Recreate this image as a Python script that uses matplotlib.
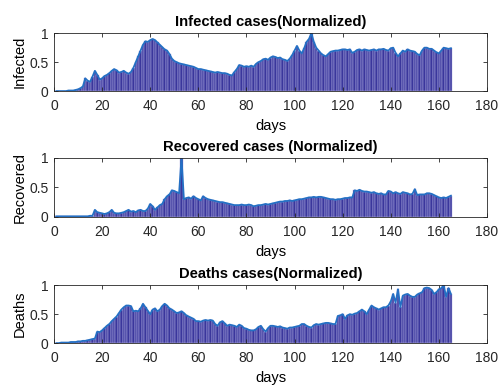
import numpy as np
import matplotlib
matplotlib.use("Agg")
import matplotlib.pyplot as plt

plt.rcParams["font.family"] = ["Liberation Sans", "DejaVu Sans"]

# normalized daily values, day 1..165
infected = [
    0.00, 0.00, 0.00, 0.00, 0.00, 0.01, 0.01, 0.01, 0.02, 0.03,
    0.05, 0.08, 0.22, 0.18, 0.16, 0.25, 0.35, 0.28, 0.20, 0.22,
    0.26, 0.28, 0.31, 0.35, 0.38, 0.36, 0.32, 0.33, 0.35, 0.32,
    0.30, 0.33, 0.40, 0.50, 0.60, 0.70, 0.80, 0.86, 0.85, 0.88,
    0.90, 0.88, 0.84, 0.80, 0.76, 0.72, 0.70, 0.64, 0.56, 0.52,
    0.50, 0.48, 0.47, 0.46, 0.45, 0.44, 0.43, 0.42, 0.40, 0.38,
    0.38, 0.37, 0.36, 0.35, 0.34, 0.33, 0.32, 0.33, 0.32, 0.31,
    0.31, 0.30, 0.28, 0.27, 0.33, 0.38, 0.45, 0.44, 0.42, 0.43,
    0.42, 0.44, 0.42, 0.47, 0.50, 0.52, 0.55, 0.56, 0.54, 0.58,
    0.60, 0.59, 0.57, 0.58, 0.55, 0.54, 0.52, 0.56, 0.62, 0.70,
    0.78, 0.70, 0.65, 0.74, 0.85, 0.90, 1.00, 0.85, 0.75, 0.70,
    0.65, 0.62, 0.60, 0.64, 0.68, 0.69, 0.70, 0.70, 0.71, 0.72,
    0.72, 0.71, 0.72, 0.66, 0.68, 0.71, 0.72, 0.70, 0.72, 0.71,
    0.70, 0.71, 0.72, 0.70, 0.72, 0.72, 0.73, 0.71, 0.70, 0.74,
    0.75, 0.66, 0.60, 0.65, 0.70, 0.68, 0.72, 0.70, 0.69, 0.68,
    0.64, 0.62, 0.70, 0.75, 0.75, 0.73, 0.73, 0.70, 0.67, 0.65,
    0.70, 0.75, 0.74, 0.73, 0.74,
]

recovered = [
    0.01, 0.01, 0.01, 0.01, 0.01, 0.01, 0.01, 0.01, 0.01, 0.01,
    0.01, 0.01, 0.01, 0.01, 0.02, 0.02, 0.12, 0.08, 0.07, 0.06,
    0.05, 0.06, 0.08, 0.12, 0.07, 0.06, 0.06, 0.07, 0.08, 0.10,
    0.12, 0.09, 0.10, 0.08, 0.11, 0.12, 0.10, 0.10, 0.14, 0.22,
    0.18, 0.12, 0.16, 0.20, 0.22, 0.30, 0.35, 0.38, 0.45, 0.44,
    0.42, 0.40, 1.00, 0.30, 0.32, 0.33, 0.31, 0.35, 0.32, 0.30,
    0.28, 0.35, 0.32, 0.30, 0.29, 0.28, 0.27, 0.26, 0.25, 0.25,
    0.24, 0.23, 0.22, 0.21, 0.20, 0.20, 0.20, 0.21, 0.20, 0.20,
    0.21, 0.20, 0.18, 0.19, 0.20, 0.20, 0.21, 0.22, 0.21, 0.22,
    0.23, 0.24, 0.25, 0.26, 0.26, 0.27, 0.27, 0.28, 0.27, 0.28,
    0.29, 0.30, 0.30, 0.31, 0.32, 0.33, 0.33, 0.34, 0.33, 0.34,
    0.34, 0.33, 0.32, 0.31, 0.30, 0.30, 0.29, 0.30, 0.30, 0.31,
    0.32, 0.32, 0.33, 0.33, 0.45, 0.44, 0.46, 0.44, 0.43, 0.43,
    0.42, 0.41, 0.42, 0.40, 0.39, 0.40, 0.38, 0.38, 0.44, 0.43,
    0.40, 0.42, 0.40, 0.39, 0.42, 0.41, 0.40, 0.38, 0.39, 0.47,
    0.37, 0.38, 0.38, 0.38, 0.40, 0.40, 0.39, 0.37, 0.35, 0.33,
    0.32, 0.33, 0.32, 0.34, 0.36,
]

deaths = [
    0.00, 0.00, 0.01, 0.01, 0.01, 0.01, 0.02, 0.02, 0.02, 0.03,
    0.03, 0.04, 0.04, 0.05, 0.06, 0.07, 0.08, 0.20, 0.19, 0.22,
    0.26, 0.30, 0.33, 0.38, 0.42, 0.46, 0.52, 0.58, 0.62, 0.65,
    0.65, 0.64, 0.55, 0.56, 0.55, 0.60, 0.68, 0.62, 0.56, 0.50,
    0.58, 0.60, 0.55, 0.58, 0.64, 0.68, 0.65, 0.60, 0.58, 0.55,
    0.52, 0.53, 0.55, 0.52, 0.48, 0.46, 0.44, 0.42, 0.38, 0.38,
    0.37, 0.39, 0.40, 0.39, 0.40, 0.39, 0.33, 0.30, 0.36, 0.38,
    0.34, 0.30, 0.32, 0.31, 0.30, 0.28, 0.32, 0.30, 0.26, 0.25,
    0.23, 0.22, 0.22, 0.24, 0.28, 0.30, 0.24, 0.20, 0.26, 0.30,
    0.30, 0.29, 0.28, 0.29, 0.27, 0.26, 0.25, 0.27, 0.27, 0.28,
    0.29, 0.30, 0.33, 0.33, 0.30, 0.28, 0.27, 0.31, 0.33, 0.32,
    0.33, 0.34, 0.35, 0.35, 0.34, 0.33, 0.33, 0.47, 0.48, 0.50,
    0.42, 0.48, 0.50, 0.49, 0.51, 0.52, 0.55, 0.58, 0.55, 0.50,
    0.58, 0.65, 0.62, 0.60, 0.58, 0.60, 0.62, 0.62, 0.65, 0.72,
    0.85, 0.70, 0.93, 0.62, 0.82, 0.84, 0.85, 0.82, 0.80, 0.80,
    0.84, 0.86, 0.88, 0.95, 0.96, 0.95, 0.92, 0.85, 0.88, 0.93,
    0.95, 1.00, 0.80, 0.95, 0.85,
]

panels = [
    ("Infected cases(Normalized)", "Infected", infected),
    ("Recovered cases (Normalized)", "Recovered", recovered),
    ("Deaths cases(Normalized)", "Deaths", deaths),
]

# axes boxes in figure fractions (left, bottom, width, height)
boxes = [
    (0.108, 0.764, 0.866, 0.150),
    (0.108, 0.438, 0.866, 0.153),
    (0.108, 0.111, 0.866, 0.150),
]

fig = plt.figure(figsize=(5.0, 3.86), dpi=100)

for (title, ylab, vals), box in zip(panels, boxes):
    ax = fig.add_axes(box)
    days = np.arange(1, len(vals) + 1)
    ax.bar(days, vals, width=1.0, color="#3a369c", edgecolor="#b4b2e4",
           linewidth=0.35)
    ax.plot(days, vals, color="#2470c4", linewidth=1.3)
    ax.set_xlim(0, 180)
    ax.set_ylim(0, 1)
    ax.set_xticks(range(0, 181, 20))
    ax.set_yticks([0, 0.5, 1])
    ax.set_yticklabels(["0", "0.5", "1"])
    ax.tick_params(direction="in", length=3, labelsize=10, top=True, right=True,
                   width=0.6, colors="#262626")
    ax.tick_params(axis="x", pad=6)
    ax.tick_params(axis="y", pad=4)
    for s in ax.spines.values():
        s.set_linewidth(0.6)
        s.set_color("#262626")
    ax.set_title(title, fontsize=10.6, fontweight="bold", pad=5)
    ax.set_xlabel("days", fontsize=10.5, labelpad=4)
    ax.set_ylabel(ylab, fontsize=10.5, labelpad=2)

fig.savefig("out.png", dpi=100)
